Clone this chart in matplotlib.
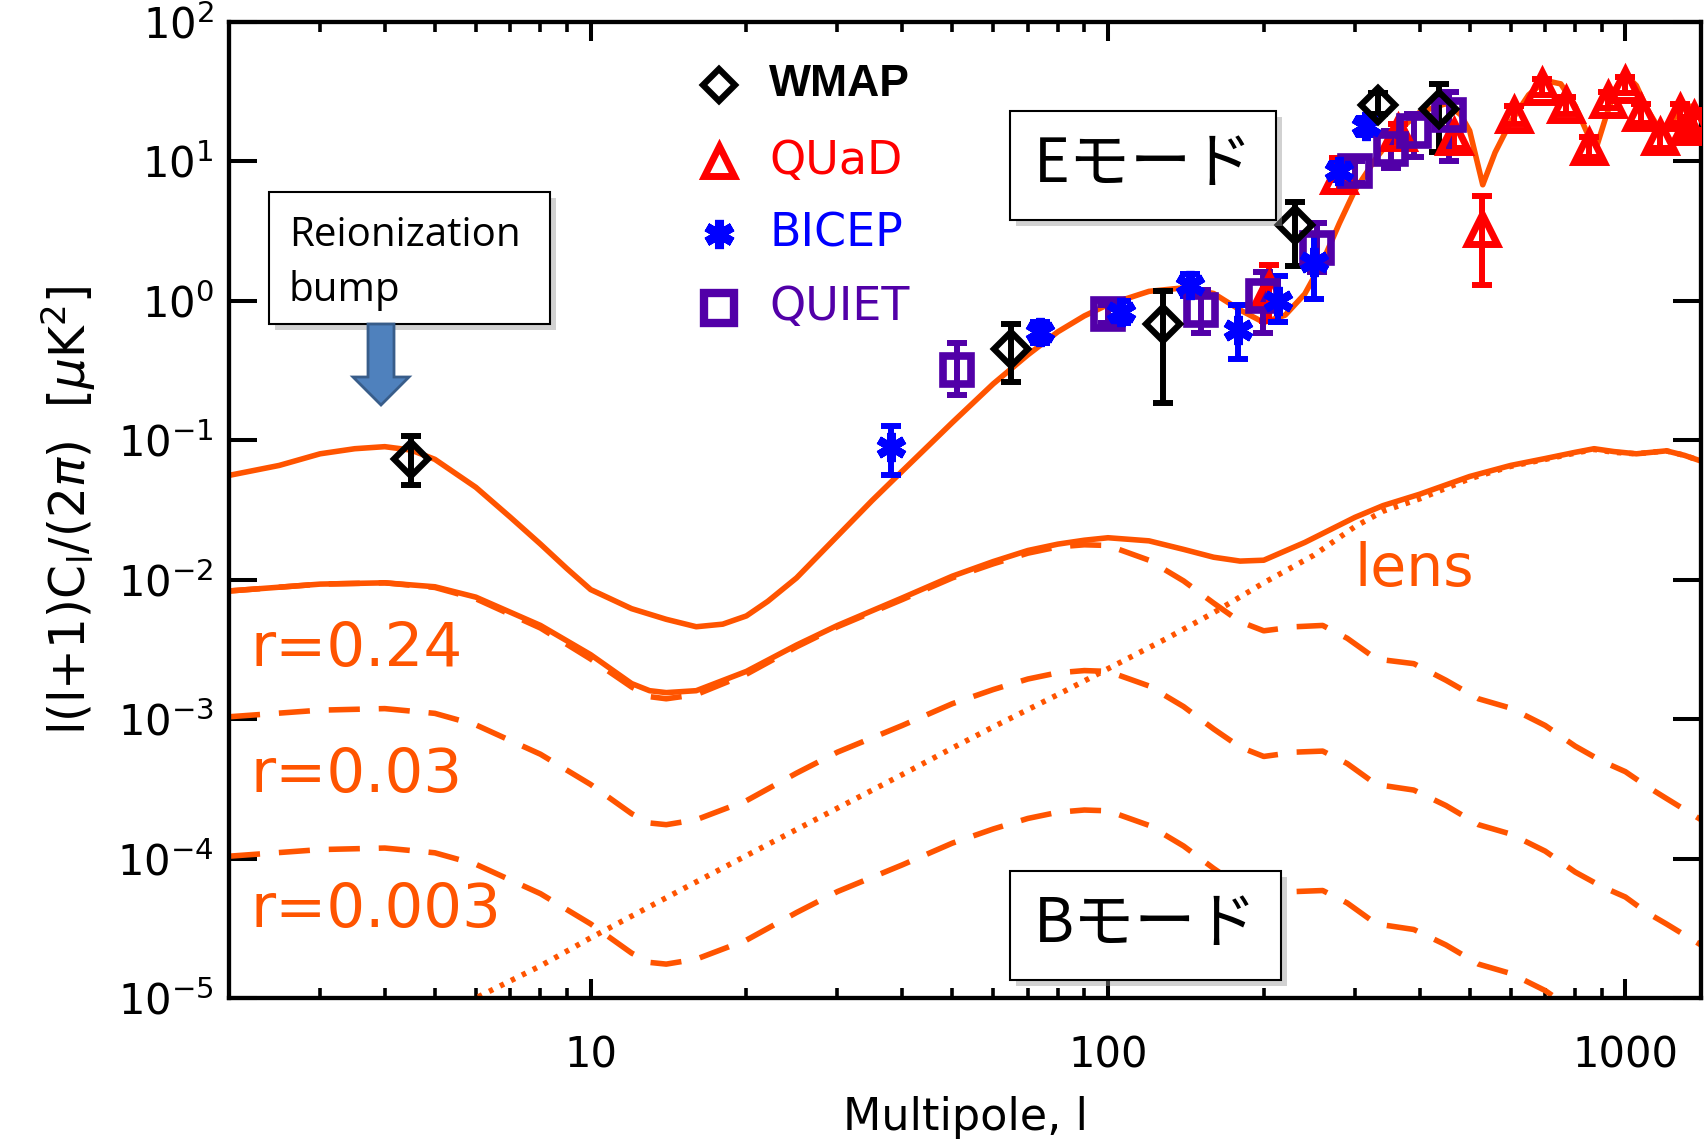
import numpy as np
import matplotlib
matplotlib.use("Agg")
import matplotlib.pyplot as plt
from matplotlib.lines import Line2D
from matplotlib.patches import Rectangle, FancyArrow
from matplotlib.ticker import FixedLocator, LogLocator, NullFormatter, NullLocator

W, H = 1707, 1144
ORANGE = "#ff5400"
RED = "#ff0000"
BLUE = "#0000ff"
PURPLE = "#5200a8"

plt.rcParams["font.family"] = ["DejaVu Sans"]
plt.rcParams["mathtext.fontset"] = "dejavusans"

# EE theory spectrum
ee_l = [2, 2.5, 3, 3.5, 4, 4.5, 5, 6, 7, 8, 9, 10, 12, 14, 16, 18, 20, 22, 25,
        30, 35, 40, 50, 60, 70, 80, 90, 100, 120, 140, 160, 180, 200, 220, 240,
        260, 280, 300, 330, 360, 400, 450, 480, 500, 530, 560, 600, 650, 700,
        750, 800, 850, 880, 920, 960, 1000, 1050, 1100, 1160, 1220, 1280, 1340, 1400]
ee_val = [0.056, 0.066, 0.080, 0.087, 0.090, 0.085, 0.073, 0.046, 0.028, 0.018,
          0.012, 0.0085, 0.0062, 0.0052, 0.0046, 0.0048, 0.0055, 0.0070, 0.0103,
          0.0206, 0.037, 0.060, 0.134, 0.254, 0.41, 0.60, 0.78, 0.94, 1.17, 1.24,
          1.13, 0.86, 0.70, 0.79, 1.12, 1.92, 3.6, 6.2, 10.6, 16.0, 22.5, 26.0,
          21.7, 16.6, 6.8, 11.6, 19.2, 30.0, 38.0, 36.0, 25.0, 15.0, 12.8, 21.7,
          34.0, 42.0, 35.0, 24.0, 17.3, 18.3, 24.0, 24.9, 20.0]

# BB total for r=0.24 (tensor + lensing)
bb_l = [2, 3, 4, 5, 6, 8, 10, 12, 13, 14, 16, 20, 25, 30, 40, 50, 60, 70, 80,
        90, 100, 120, 140, 160, 180, 200, 240, 300, 340, 400, 500, 600, 700,
        800, 870, 950, 1050, 1200, 1300, 1400]
bb_val = [0.0083, 0.0093, 0.0095, 0.0089, 0.0075, 0.0047, 0.0029, 0.0018,
          0.0016, 0.00155, 0.0016, 0.0022, 0.0034, 0.0047, 0.0074, 0.0106,
          0.0135, 0.0162, 0.0180, 0.0192, 0.0200, 0.0190, 0.0165, 0.0145,
          0.0136, 0.0138, 0.0185, 0.0280, 0.034, 0.041, 0.055, 0.066, 0.074,
          0.082, 0.087, 0.083, 0.080, 0.084, 0.078, 0.071]

# tensor BB for three values of r
tens_l = [2, 3, 4, 5, 6, 8, 10, 12, 13, 14, 16, 20, 25, 30, 40, 50, 60, 70, 80,
          90, 100, 120, 140, 160, 180, 200, 230, 260, 290, 330, 390, 450, 520,
          600, 700, 800, 900, 1000, 1100, 1200, 1400]
tens_024 = [0.0083, 0.0093, 0.0095, 0.0088, 0.0073, 0.0045, 0.0027, 0.0017,
            0.00145, 0.0014, 0.0015, 0.0021, 0.0033, 0.0046, 0.0072, 0.0103,
            0.0130, 0.0155, 0.0172, 0.0178, 0.0176, 0.0138, 0.0098, 0.0068,
            0.0050, 0.0043, 0.0046, 0.0047, 0.0038, 0.0027, 0.0025, 0.0019,
            0.0014, 0.0012, 0.0009, 0.00064, 0.00050, 0.00042, 0.00033,
            0.00027, 0.00019]
tens_003 = [0.00104, 0.00116, 0.00119, 0.0011, 0.00091, 0.00056, 0.00034,
            0.00021, 0.00018, 0.000175, 0.00019, 0.00026, 0.00041, 0.00058,
            0.0009, 0.00129, 0.00163, 0.00194, 0.00215, 0.00223, 0.0022,
            0.00173, 0.00123, 0.00085, 0.00063, 0.00054, 0.00058, 0.00059,
            0.00048, 0.00034, 0.00031, 0.00024, 0.000175, 0.00015, 0.000113,
            0.00008, 0.000063, 0.000053, 0.000041, 0.000034, 0.000024]
tens_0003 = [0.000104, 0.000116, 0.000119, 0.00011, 0.000091, 0.000056,
             0.000034, 0.000021, 0.000018, 0.0000175, 0.000019, 0.000026,
             0.000041, 0.000058, 0.00009, 0.000129, 0.000163, 0.000194,
             0.000215, 0.000223, 0.00022, 0.000173, 0.000123, 0.000085,
             0.000063, 0.000054, 0.000058, 0.000059, 0.000048, 0.000034,
             0.000031, 0.000024, 0.0000175, 0.000015, 0.0000113, 0.000008,
             0.0000063, 0.0000053, 0.0000041, 0.0000034, 0.0000024]

# lensing BB
lens_l = [5.5, 6, 8, 10, 15, 20, 30, 40, 50, 60, 80, 100, 130, 160, 200, 250,
          300, 340, 400, 500, 600, 700, 800, 870, 950, 1050, 1200, 1300, 1400]
lens_val = [8.5e-6, 1.0e-5, 1.7e-5, 2.7e-5, 6.0e-5, 1.05e-4, 2.3e-4, 4.0e-4,
            6.2e-4, 8.8e-4, 1.5e-3, 2.3e-3, 3.8e-3, 5.8e-3, 9.5e-3, 0.015,
            0.024, 0.031, 0.038, 0.053, 0.065, 0.073, 0.081, 0.086, 0.082,
            0.080, 0.084, 0.078, 0.071]

# EE band powers: multipole, value, lower end, upper end of error bar
wmap_l = [4.5, 65, 128, 230, 333, 437]
wmap_v = [0.073, 0.45, 0.68, 3.5, 25.6, 23.8]
wmap_lo = [0.048, 0.26, 0.184, 1.77, 21.8, 11.6]
wmap_hi = [0.108, 0.68, 1.17, 5.15, 31.0, 36.0]

quad_l = [205, 280, 364, 466, 528, 608, 689, 769, 849, 927, 1000, 1074, 1167,
          1276, 1322, 1360]
quad_v = [1.2, 7.8, 16.0, 15.0, 3.3, 21.5, 34.2, 25.4, 12.7, 27.6, 35.3, 22.2,
          15.0, 22.2, 17.6, 19.9]
quad_lo = [0.72, 6.0, 13.8, 12.5, 1.29, 18.5, 30.0, 22.0, 10.8, 24.0, 31.0,
           19.0, 12.5, 19.0, 14.8, 16.8]
quad_hi = [1.81, 10.5, 18.5, 17.5, 5.65, 25.0, 39.0, 29.0, 15.0, 31.5, 40.0,
           26.0, 18.0, 26.0, 21.0, 23.5]

bicep_l = [38, 74, 106, 144, 178, 213, 250, 280, 315]
bicep_v = [0.090, 0.60, 0.83, 1.29, 0.62, 1.0, 1.9, 8.6, 18.0]
bicep_lo = [0.056, 0.50, 0.69, 1.08, 0.38, 0.70, 1.03, 7.4, 15.5]
bicep_hi = [0.126, 0.70, 0.99, 1.55, 0.93, 1.50, 3.0, 9.8, 20.5]

quiet_l = [51, 100, 151, 199, 253, 300, 352, 391, 456]
quiet_v = [0.32, 0.81, 0.86, 1.08, 2.4, 8.5, 12.2, 16.6, 21.7]
quiet_lo = [0.21, 0.69, 0.59, 0.59, 1.6, 7.0, 8.9, 10.7, 10.0]
quiet_hi = [0.50, 0.93, 1.20, 1.60, 3.6, 10.0, 16.6, 21.8, 31.4]


def fx(px):
    return px / W


def fy(py):
    return 1 - py / H


fig = plt.figure(figsize=(W / 100, H / 100), dpi=100)
ax = fig.add_axes([fx(229), fy(998), (1701 - 229) / W, (998 - 22) / H])
ax.set_xscale("log")
ax.set_yscale("log")
ax.set_xlim(2, 1400)
ax.set_ylim(1e-5, 1e2)

# theory curves
LW = 4.0
ax.plot(ee_l, ee_val, color=ORANGE, lw=LW, solid_joinstyle="round", zorder=2)
ax.plot(bb_l, bb_val, color=ORANGE, lw=LW, solid_joinstyle="round", zorder=2)
for tv in (tens_024, tens_003, tens_0003):
    ax.plot(tens_l, tv, color=ORANGE, lw=LW, dashes=(5.6, 3.4), zorder=2)
ax.plot(lens_l, lens_val, color=ORANGE, lw=LW, dashes=(0.8, 1.4), zorder=2)


# band powers
def bandpowers(l, v, lo, hi, color, **mk):
    v = np.array(v)
    yerr = [v - np.array(lo), np.array(hi) - v]
    ax.errorbar(l, v, yerr=yerr, fmt="none", ecolor=color, elinewidth=4.3,
                capsize=7, capthick=4.3, zorder=3)
    ax.plot(l, v, ls="none", color=color, mfc="none", zorder=4, **mk)


bandpowers(quad_l, quad_v, quad_lo, quad_hi, RED, marker="^", ms=21, mew=5)
bandpowers(quiet_l, quiet_v, quiet_lo, quiet_hi, PURPLE, marker="s", ms=20, mew=5.5)
bandpowers(bicep_l, bicep_v, bicep_lo, bicep_hi, BLUE, marker=(6, 2, 0), ms=21, mew=6)
bandpowers(wmap_l, wmap_v, wmap_lo, wmap_hi, "black", marker="D", ms=17, mew=4.5)

# axes styling
for sp in ax.spines.values():
    sp.set_linewidth(3.1)
ax.xaxis.set_major_locator(FixedLocator([10, 100, 1000]))
ax.xaxis.set_minor_locator(LogLocator(base=10, subs=np.arange(2, 10)))
ax.xaxis.set_minor_formatter(NullFormatter())
ax.set_xticklabels(["10", "100", "1000"])
ax.yaxis.set_major_locator(FixedLocator([10.0 ** k for k in range(-5, 3)]))
ax.yaxis.set_minor_locator(NullLocator())
ax.tick_params(which="both", direction="in", top=True, right=True,
               labelsize=30, colors="black")
ax.tick_params(axis="x", which="major", length=14, width=2.9, pad=26)
ax.tick_params(axis="x", which="minor", length=7.5, width=2.6)
ax.tick_params(axis="y", which="major", length=20, width=2.9, pad=11)
ax.set_xlabel("Multipole, l", fontsize=32, labelpad=14)
ax.set_ylabel(r"l(l+1)C$_\mathregular{l}$/(2$\pi$)  [$\mu$K$^\mathregular{2}$]",
              fontsize=35, labelpad=14)

# legend
legend_rows = [("WMAP", "black", dict(marker="D", ms=16, mew=4.5), "bold", "Liberation Sans"),
               ("QUaD", RED, dict(marker="^", ms=22, mew=5), "normal", "DejaVu Sans"),
               ("BICEP", BLUE, dict(marker=(6, 2, 0), ms=21, mew=6.5), "normal", "DejaVu Sans"),
               ("QUIET", PURPLE, dict(marker="s", ms=21, mew=6), "normal", "DejaVu Sans")]
for (name, col, mk, wt, fam), ypx in zip(legend_rows, [85, 161, 234, 308]):
    fig.add_artist(Line2D([fx(719)], [fy(ypx)], transform=fig.transFigure,
                          ls="none", color=col, mfc="none", **mk))
    fig.text(fx(769), fy(ypx), name, color=col, fontsize=32 if wt == "bold" else 33,
             fontweight=wt, va="center", ha="left", family=[fam])

# labels on the curves
fig.text(fx(1355), fy(586), "lens", color=ORANGE, fontsize=42, va="baseline")
for lab, base in [("r=0.24", 666), ("r=0.03", 792), ("r=0.003", 927)]:
    fig.text(fx(251), fy(base), lab, color=ORANGE, fontsize=44, va="baseline")


# callout boxes with drop shadow
def callout(x0, y0, x1, y1):
    fig.add_artist(Rectangle((fx(x0 + 6), fy(y1 + 6)), (x1 - x0) / W, (y1 - y0) / H,
                             transform=fig.transFigure, facecolor="0.6",
                             edgecolor="none", alpha=0.45, zorder=5))
    fig.add_artist(Rectangle((fx(x0), fy(y1)), (x1 - x0) / W, (y1 - y0) / H,
                             transform=fig.transFigure, facecolor="white",
                             edgecolor="black", lw=1.5, zorder=6))


callout(269, 192, 550, 324)
fig.text(fx(289), fy(246), "Reionization", fontsize=29, family="Open Sans", zorder=7)
fig.text(fx(289), fy(301), "bump", fontsize=29, family="Open Sans", zorder=7)

callout(1010, 111, 1276, 220)
fig.text(fx(1143), fy(165), "Eモード", fontsize=44, ha="center", va="center",
         family=["Noto Sans CJK JP"], zorder=7)
callout(1010, 871, 1281, 980)
fig.text(fx(1146), fy(925), "Bモード", fontsize=44, ha="center", va="center",
         family=["Noto Sans CJK JP"], zorder=7)

# arrow pointing at the reionization bump
fig.add_artist(FancyArrow(3.81, (H - 324) / 100, 0, -0.81, width=0.26,
                          head_width=0.56, head_length=0.28,
                          length_includes_head=True, transform=fig.dpi_scale_trans,
                          facecolor="#4f81bd", edgecolor="#385d8a", lw=2, zorder=7))

fig.savefig("out.png", dpi=100)
